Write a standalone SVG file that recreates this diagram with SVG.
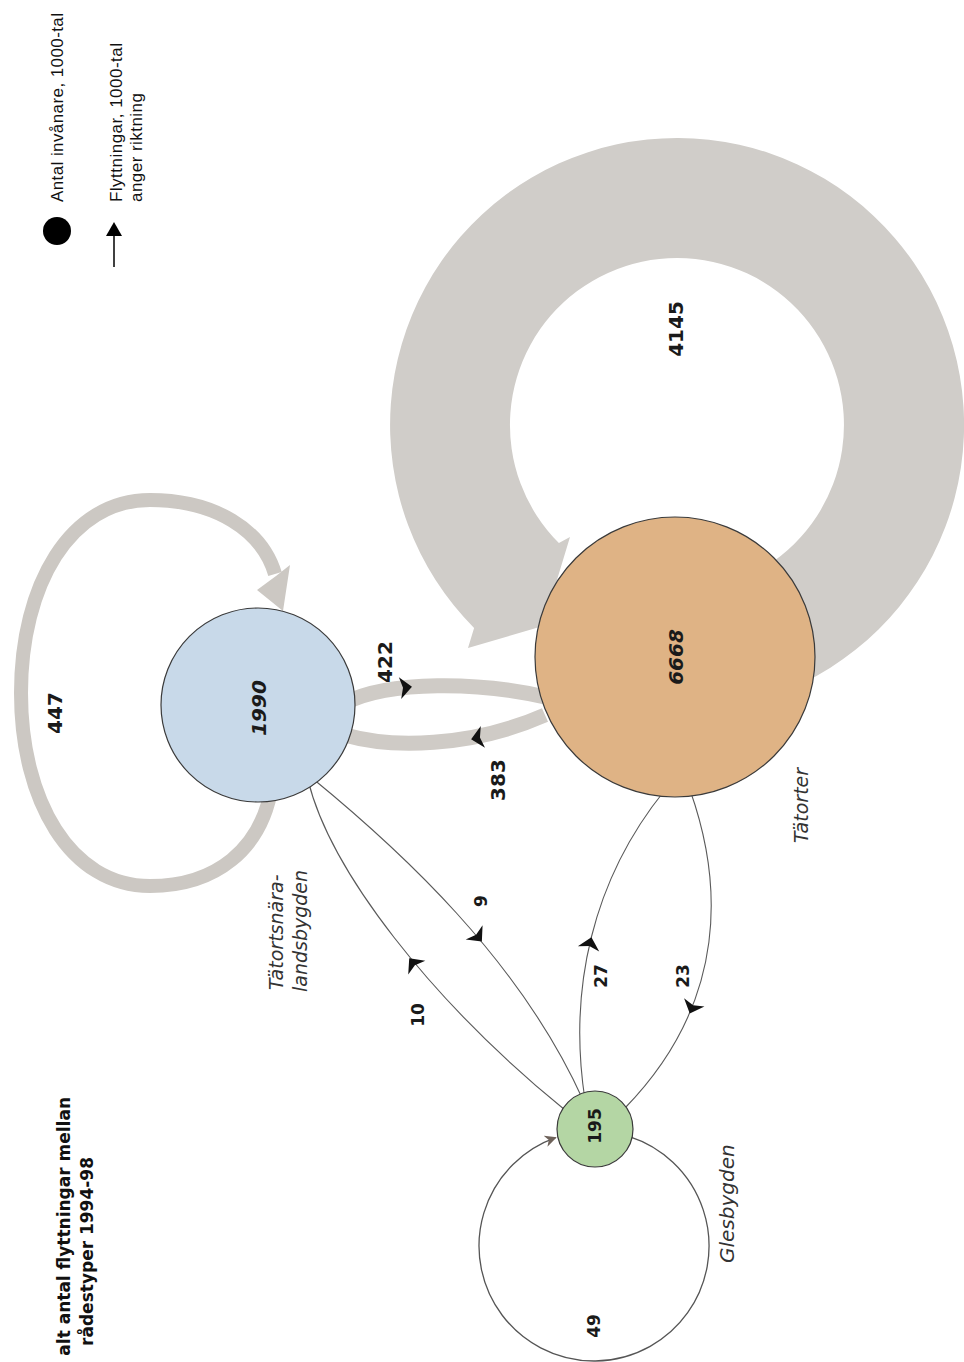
<svg xmlns="http://www.w3.org/2000/svg" width="964" height="1362" viewBox="0 0 964 1362">
<defs>
<style>
.num{font-family:"DejaVu Sans","Liberation Sans",sans-serif;font-weight:bold;fill:#1a1a1a;text-anchor:middle;dominant-baseline:central}
.big{font-size:20px}
.sm{font-size:17px}
.it{font-style:italic}
.name{font-family:"DejaVu Sans","Liberation Sans",sans-serif;font-style:italic;font-size:19px;fill:#333}
.leg{font-family:"Liberation Sans",Arial,sans-serif;font-size:17px;fill:#111}
.title{font-family:"DejaVu Sans","Liberation Sans",sans-serif;font-weight:bold;font-size:17px;fill:#111;text-anchor:end}
.band{fill:none;stroke:#cfcbc6;stroke-width:15}
.thin{fill:none;stroke:#5a5a5a;stroke-width:1.1}
.node{stroke:#3a3a3a;stroke-width:1.2}
</style>
<path id="ah" d="M6,0 L-6,-11 L-3,0 L-6,11 Z" fill="#111"/>
<marker id="gl" viewBox="0 0 10 10" markerWidth="12" markerHeight="12" refX="9" refY="5" orient="auto" markerUnits="userSpaceOnUse">
<path d="M0,0 L10,5 L0,10 L3,5 Z" fill="#6e625a"/>
</marker>
</defs>
<rect width="964" height="1362" fill="#ffffff"/>

<g id="legend">
<circle cx="57" cy="231" r="14" fill="#000"/>
<line x1="114" y1="267" x2="114" y2="232" stroke="#000" stroke-width="1.5"/>
<path d="M114,222 L106,236 L122,236 Z" fill="#000"/>
<text class="leg" transform="translate(63,202) rotate(-90)" textLength="189">Antal invånare, 1000-tal</text>
<text class="leg" transform="translate(122,202) rotate(-90)" textLength="159">Flyttningar, 1000-tal</text>
<text class="leg" transform="translate(142,202) rotate(-90)" textLength="109">anger riktning</text>
</g>

<g id="title">
<text class="title" transform="translate(70,1097) rotate(-90)">alt antal flyttningar mellan</text>
<text class="title" transform="translate(93,1157) rotate(-90)">rådestyper 1994-98</text>
</g>

<g id="connectors">
<path id="loop-tatorter" d="M775.2,694.7 A287,287 0 1 0 474.1,627.9 L468,648 L543,626 L570,537 L558.9,543.1 A167,167 0 1 1 734.1,581.9 Z" fill="#d0cdc9"/>
<path id="loop-landsbygd" d="M272,785 C262,850 215,886 150,886 C70,886 21,800 21,693 C21,585 70,500 150,500 C215,500 262,530 275,574" fill="none" stroke="#ccc8c3" stroke-width="14"/>
<path d="M257,590 L283,611 L290,565 L276,576 Z" fill="#ccc8c3"/>
<path id="loop-glesbygd" d="M629.5,1136.6 A115,115 0 1 1 555.6,1137.6" fill="none" stroke="#555" stroke-width="1.3" marker-end="url(#gl)"/>
<path class="band" d="M345,703 C390,680 480,682 545,697"/>
<path class="band" d="M345,735 C390,748 470,748 545,715"/>
<path class="thin" d="M308,780 C330,870 430,1000 565,1110"/>
<path class="thin" d="M312,778 C400,850 520,960 583,1100"/>
<path class="thin" d="M585,1100 C568,990 592,880 665,790"/>
<path class="thin" d="M690,790 C722,880 730,1000 625,1108"/>
<use href="#ah" transform="translate(406,687.5) rotate(-6)"/>
<use href="#ah" transform="translate(477,738) rotate(169)"/>
<use href="#ah" transform="translate(413,963) rotate(-129)"/>
<use href="#ah" transform="translate(478,937) rotate(50)"/>
<use href="#ah" transform="translate(590,943) rotate(-76)"/>
<use href="#ah" transform="translate(692,1008) rotate(112)"/>
</g>

<g id="flow-labels">
<text class="num big" transform="translate(676,329) rotate(-90)">4145</text>
<text class="num big" transform="translate(55,713) rotate(-90)">447</text>
<text class="num big" transform="translate(385,662) rotate(-90)">422</text>
<text class="num big" transform="translate(498,780) rotate(-90)">383</text>
<text class="num sm" transform="translate(481,901) rotate(-90)">9</text>
<text class="num sm" transform="translate(418,1015) rotate(-90)">10</text>
<text class="num sm" transform="translate(601,976) rotate(-90)">27</text>
<text class="num sm" transform="translate(683,976) rotate(-90)">23</text>
<text class="num sm" transform="translate(594,1326) rotate(-90)">49</text>
</g>

<g id="node-tatortsnara">
<circle class="node" cx="258" cy="705" r="97" fill="#c8d9e9"/>
<text class="num big it" transform="translate(259,708) rotate(-90)">1990</text>
<text class="name" transform="translate(283,990) rotate(-90)">Tätortsnära-</text>
<text class="name" transform="translate(307,992) rotate(-90)">landsbygden</text>
</g>

<g id="node-tatorter">
<circle class="node" cx="675" cy="657" r="140" fill="#dfb385" stroke="#4a3a2c"/>
<text class="num big it" transform="translate(676,657) rotate(-90)">6668</text>
<text class="name" transform="translate(808,843) rotate(-90)">Tätorter</text>
</g>

<g id="node-glesbygd">
<circle class="node" cx="595" cy="1129" r="38" fill="#b4d6a4"/>
<text class="num sm" transform="translate(595,1126) rotate(-90)">195</text>
<text class="name" transform="translate(734,1263) rotate(-90)" style="font-size:20px">Glesbygden</text>
</g>
</svg>
